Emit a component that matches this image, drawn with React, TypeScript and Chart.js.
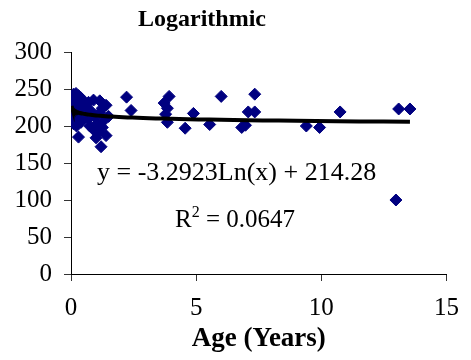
import React, { useEffect, useRef } from "react";
import { Chart, registerables } from "chart.js";

Chart.register(...registerables);

// ---- Data ----
const ages = [
  0.02, 0.05, 0.1, 0.2, 0.3, 0.4, 0.08, 0.15, 0.25, 0.45, 0.55, 0.04, 0.12, 0.2,
  0.35, 0.5, 0.06, 0.18, 0.3, 0.1, 0.22, 0.4, 0.3,
  0.7, 0.9, 1.15, 1.4, 0.65, 0.8, 1.25, 1.15, 1.5, 0.7, 0.95, 1.3, 0.75, 1.05,
  1.25, 0.9, 1.1, 1.4, 1.0, 1.2,
  2.22, 2.4, 3.72, 3.92, 3.85, 3.78, 3.85, 4.56, 4.89, 5.54, 6.0, 6.82, 6.97,
  7.08, 7.34, 7.34, 9.4, 9.93, 10.75, 12.98, 13.09, 13.54,
];
const values = [
  226, 240, 243, 244, 241, 238, 232, 228, 233, 230, 226, 222, 218, 215,
  220, 218, 212, 208, 210, 203, 200, 205, 185,
  232, 235, 234, 228, 222, 220, 224, 218, 213, 210, 212, 207, 200, 203,
  198, 195, 192, 187, 184, 172,
  239, 221, 231, 240, 224, 216, 205, 197, 217, 202, 240, 198, 201,
  219, 243, 219, 200, 198, 219, 100, 223, 223,
];
const xTickValues = [0, 5, 10, 15];
const yTickValues = [0, 50, 100, 150, 200, 250, 300];

// Displayed logarithmic trendline: y = a*ln(x) + b
const trendSlope = -3.2923;
const trendIntercept = 214.28;
const rSquared = "0.0647";

const chartTitle = "Logarithmic";
const xAxisTitle = "Age (Years)";
const equationText = "y = -3.2923Ln(x) + 214.28";

const FONT = "'Liberation Serif', 'Times New Roman', serif";

export default function App() {
  const canvasRef = useRef<HTMLCanvasElement | null>(null);

  useEffect(() => {
    if (!canvasRef.current) return;

    const points = ages.map((a, i) => ({ x: a, y: values[i] }));
    const minX = Math.min(...ages);
    const maxX = Math.max(...ages);
    const steps = 80;
    const trend: { x: number; y: number }[] = [];
    for (let i = 0; i <= steps; i++) {
      const x = Math.exp(Math.log(minX) + ((Math.log(maxX) - Math.log(minX)) * i) / steps);
      trend.push({ x, y: trendSlope * Math.log(x) + trendIntercept });
    }

    const textPlugin = {
      id: "texts",
      afterDraw(chart: any) {
        const ctx = chart.ctx as CanvasRenderingContext2D;
        ctx.save();
        ctx.fillStyle = "#000";
        ctx.textBaseline = "alphabetic";
        ctx.textAlign = "left";
        ctx.font = `bold 24px ${FONT}`;
        ctx.fillText(chartTitle, 138, 26);
        ctx.font = `26px ${FONT}`;
        ctx.fillText(equationText, 97, 180);
        // R² = ...
        let x = 175;
        const base = 226.5;
        ctx.font = `25px ${FONT}`;
        ctx.fillText("R", x, base);
        x += ctx.measureText("R").width;
        ctx.font = `16px ${FONT}`;
        ctx.fillText("2", x, base - 10);
        x += ctx.measureText("2").width;
        ctx.font = `25px ${FONT}`;
        ctx.fillText(" = " + rSquared, x, base);
        ctx.restore();
      },
    };

    const chart = new Chart(canvasRef.current, {
      type: "scatter",
      data: {
        datasets: [
          {
            type: "line",
            data: trend,
            borderColor: "#000",
            borderWidth: 4,
            pointRadius: 0,
            fill: false,
            tension: 0,
          } as any,
          {
            data: points,
            pointStyle: "rectRot",
            pointRadius: 6,
            backgroundColor: "#000080",
            borderColor: "#000080",
            borderWidth: 1,
          },
        ],
      },
      options: {
        animation: false,
        responsive: false,
        layout: { padding: { top: 52, right: 15, bottom: 0, left: 0 } },
        plugins: {
          legend: { display: false },
          tooltip: { enabled: false },
          title: { display: false },
        },
        scales: {
          x: {
            type: "linear",
            min: 0,
            max: 15,
            afterBuildTicks: (s: any) => {
              s.ticks = xTickValues.map((v) => ({ value: v }));
            },
            border: { color: "#000", width: 1 },
            grid: { drawOnChartArea: false, drawTicks: true, tickLength: 7, color: "#333" },
            ticks: {
              font: { family: FONT, size: 25 },
              color: "#000",
              padding: 12,
              maxRotation: 0,
              autoSkip: false,
            },
            title: {
              display: true,
              text: xAxisTitle,
              color: "#000",
              font: { family: FONT, size: 27, weight: "bold" },
              padding: { top: 0, bottom: 5 },
            },
            afterFit: (s: any) => {
              s.height = 86;
            },
          },
          y: {
            type: "linear",
            min: 0,
            max: 300,
            afterBuildTicks: (s: any) => {
              s.ticks = yTickValues.map((v) => ({ value: v }));
            },
            border: { color: "#000", width: 1 },
            grid: { drawOnChartArea: false, drawTicks: true, tickLength: 7, color: "#333" },
            ticks: {
              font: { family: FONT, size: 25 },
              color: "#000",
              padding: 12,
              autoSkip: false,
            },
            afterFit: (s: any) => {
              s.width = 71;
            },
          },
        },
      } as any,
      plugins: [textPlugin],
    });

    return () => chart.destroy();
  }, []);

  return (
    <div style={{ position: "absolute", left: 0, top: 0, width: 471, height: 360, background: "#fff" }}>
      <canvas ref={canvasRef} width={471} height={360} style={{ display: "block" }} />
    </div>
  );
}
